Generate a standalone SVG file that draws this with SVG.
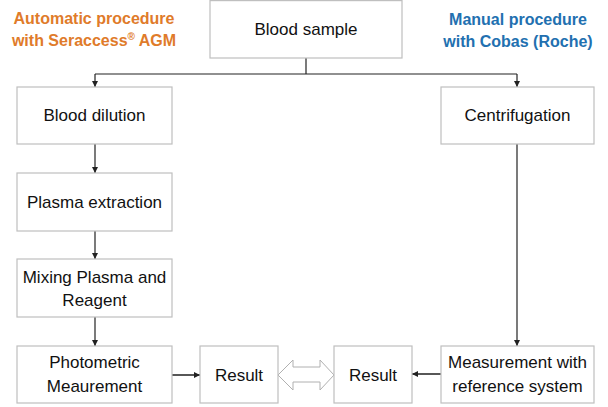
<svg xmlns="http://www.w3.org/2000/svg" width="608" height="407" viewBox="0 0 608 407">
<style>
.box{fill:#fff;stroke:#bfbfbf;stroke-width:1.2}
.t{font-family:"Liberation Sans",Arial,sans-serif;font-size:17px;fill:#111;text-anchor:middle}
.h{font-family:"Liberation Sans",Arial,sans-serif;font-size:16px;font-weight:bold;text-anchor:middle}
.c{fill:none;stroke:#222;stroke-width:1.2}
.c2{fill:none;stroke:#444;stroke-width:1.8}
</style>
<defs>
<marker id="ah" viewBox="0 0 10 10" refX="10" refY="5" markerWidth="6" markerHeight="6" markerUnits="userSpaceOnUse" orient="auto">
<path d="M0,0 L10,5 L0,10 z" fill="#222"/>
</marker>
</defs>
<rect width="608" height="407" fill="#fff"/>
<g id="heading-left">
<text class="h" x="94" y="24" fill="#E07B2A">Automatic procedure</text>
<text class="h" x="94" y="46" fill="#E07B2A">with Seraccess<tspan font-size="10" dy="-6">®</tspan><tspan dy="6"> AGM</tspan></text>
</g>
<g id="heading-right">
<text class="h" x="518" y="25" fill="#2270B0">Manual procedure</text>
<text class="h" x="518" y="47" fill="#2270B0">with Cobas (Roche)</text>
</g>
<g id="connectors">
<path class="c" d="M306,58 V74"/>
<path class="c" d="M95,74 H517"/>
<path class="c" d="M95,74 V87" marker-end="url(#ah)"/>
<path class="c" d="M517,74 V87" marker-end="url(#ah)"/>
<path class="c" d="M95,144 V173" marker-end="url(#ah)"/>
<path class="c" d="M95,231 V259" marker-end="url(#ah)"/>
<path class="c" d="M95,317 V346" marker-end="url(#ah)"/>
<path class="c" d="M517,144 V346" marker-end="url(#ah)"/>
<path class="c2" d="M172,375 H200" marker-end="url(#ah)"/>
<path class="c2" d="M441,374 H412" marker-end="url(#ah)"/>
<polygon points="278,375 293,360 293,367 320,367 320,360 334,375 320,390 320,382 293,382 293,390" fill="#fff" stroke="#b0b0b0" stroke-width="1"/>
</g>
<g id="blood-sample">
<rect class="box" x="210" y="0.6" width="192" height="57.4"/>
<text class="t" x="306" y="35">Blood sample</text>
</g>
<g id="blood-dilution">
<rect class="box" x="17" y="87" width="155" height="57"/>
<text class="t" x="94.5" y="121">Blood dilution</text>
</g>
<g id="centrifugation">
<rect class="box" x="441" y="87" width="153" height="57"/>
<text class="t" x="517.5" y="121">Centrifugation</text>
</g>
<g id="plasma-extraction">
<rect class="box" x="17" y="173" width="155" height="58"/>
<text class="t" x="94.5" y="208">Plasma extraction</text>
</g>
<g id="mixing">
<rect class="box" x="17" y="259" width="155" height="58"/>
<text class="t" x="94.5" y="283">Mixing Plasma and</text>
<text class="t" x="94.5" y="306">Reagent</text>
</g>
<g id="photometric">
<rect class="box" x="17" y="346" width="155" height="57"/>
<text class="t" x="94.5" y="368">Photometric</text>
<text class="t" x="94.5" y="392">Meaurement</text>
</g>
<g id="result-left">
<rect class="box" x="200" y="346" width="78" height="57"/>
<text class="t" x="239" y="381">Result</text>
</g>
<g id="result-right">
<rect class="box" x="334" y="346" width="78" height="57"/>
<text class="t" x="373" y="381">Result</text>
</g>
<g id="measurement">
<rect class="box" x="441" y="346" width="153" height="57"/>
<text class="t" x="517.5" y="368">Measurement with</text>
<text class="t" x="517.5" y="392">reference system</text>
</g>
</svg>
